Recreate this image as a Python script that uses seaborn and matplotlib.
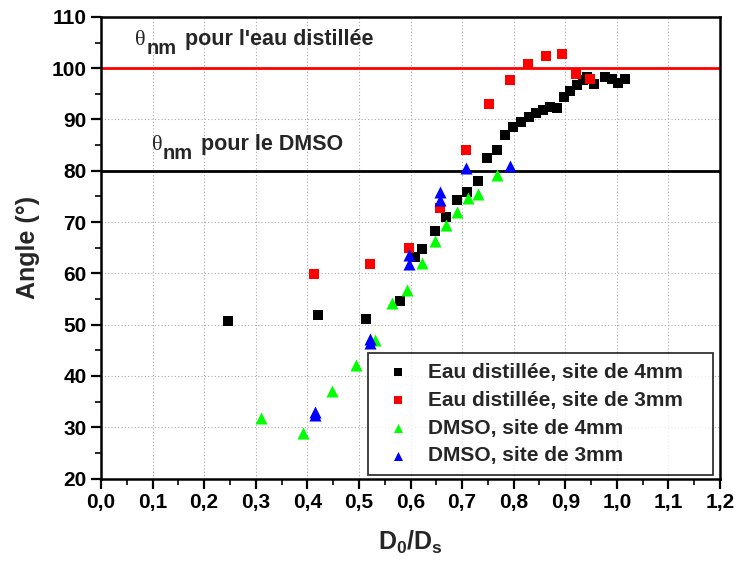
import matplotlib
matplotlib.use("Agg")
import matplotlib.pyplot as plt
import seaborn as sns
import pandas as pd
from matplotlib.ticker import MultipleLocator, FuncFormatter

# ---- data ----
eau4_x = [0.247, 0.421, 0.513, 0.579, 0.609, 0.622, 0.647, 0.669, 0.690, 0.710,
          0.730, 0.749, 0.767, 0.783, 0.798, 0.814, 0.829, 0.844, 0.857, 0.870,
          0.884, 0.897, 0.909, 0.922, 0.935, 0.942, 0.955, 0.977, 0.990, 1.002, 1.016]
eau4_y = [50.8, 51.9, 51.1, 54.7, 63.1, 64.7, 68.3, 71.0, 74.4, 75.9,
          78.0, 82.4, 84.0, 86.9, 88.5, 89.6, 90.4, 91.2, 91.8, 92.5,
          92.2, 94.4, 95.6, 96.7, 97.7, 98.3, 96.9, 98.3, 97.8, 97.2, 97.8]

eau3_x = [0.413, 0.522, 0.597, 0.657, 0.707, 0.753, 0.793, 0.828, 0.862, 0.893, 0.921, 0.947]
eau3_y = [59.8, 61.9, 65.0, 72.8, 84.0, 93.1, 97.7, 100.8, 102.3, 102.8, 98.9, 97.8]

dmso4_x = [0.311, 0.391, 0.448, 0.494, 0.531, 0.565, 0.594, 0.622, 0.647, 0.669,
           0.690, 0.712, 0.730, 0.767]
dmso4_y = [31.9, 28.8, 37.0, 42.2, 47.0, 54.2, 56.8, 62.1, 66.4, 69.5,
           71.9, 74.6, 75.5, 79.1]

dmso3_x = [0.414, 0.414, 0.521, 0.521, 0.597, 0.597, 0.657, 0.657, 0.707, 0.793]
dmso3_y = [32.3, 33.0, 46.4, 47.2, 61.9, 63.5, 74.4, 75.8, 80.5, 80.9]

labels = ["Eau distillée, site de 4mm", "Eau distillée, site de 3mm",
          "DMSO, site de 4mm", "DMSO, site de 3mm"]
colors = ["#000000", "#FF0000", "#00FF00", "#0000FF"]
markers = ["s", "s", "^", "^"]

theta_eau = 100
theta_dmso = 80
annot_eau = "pour l'eau distillée"
annot_dmso = "pour le DMSO"

x_ticks = [round(0.1 * i, 1) for i in range(13)]
y_ticks = list(range(20, 111, 10))

# ---- build table ----
frames = []
for lab, xs, ys in zip(labels, [eau4_x, eau3_x, dmso4_x, dmso3_x],
                       [eau4_y, eau3_y, dmso4_y, dmso3_y]):
    frames.append(pd.DataFrame({"x": xs, "y": ys, "serie": lab}))
df = pd.concat(frames, ignore_index=True)

sns.set_theme(style="ticks")
plt.rcParams["font.family"] = ["Liberation Sans", "DejaVu Sans"]
plt.rcParams["mathtext.fontset"] = "custom"
plt.rcParams["mathtext.rm"] = "Liberation Sans:bold"
plt.rcParams["mathtext.bf"] = "Liberation Sans:bold"
plt.rcParams["mathtext.it"] = "Liberation Sans:bold"

fig = plt.figure(figsize=(7.37, 5.63), dpi=100)
ax = fig.add_axes([0.137, 0.150, 0.840, 0.820])

ax.axhline(theta_eau, color="#FF0000", lw=2, zorder=2)
ax.axhline(theta_dmso, color="black", lw=2, zorder=2)

for lab, col, mk in zip(labels, colors, markers):
    sub = df[df["serie"] == lab]
    sns.scatterplot(data=sub, x="x", y="y", ax=ax, color=col, marker=mk,
                    s=60 if mk == "s" else 75, linewidth=0, label=lab, zorder=3)

ax.set_xlim(0, 1.2)
ax.set_ylim(20, 110)
ax.set_xticks(x_ticks)
ax.set_yticks(y_ticks)
ax.xaxis.set_minor_locator(MultipleLocator(0.05))
ax.yaxis.set_minor_locator(MultipleLocator(5))
ax.xaxis.set_major_formatter(FuncFormatter(lambda v, p: f"{v:.1f}".replace(".", ",")))
ax.grid(True, which="major", color="#aaaaaa", linestyle=(0, (1, 2)), lw=0.8)
ax.set_axisbelow(True)

for sp in ax.spines.values():
    sp.set_linewidth(1.8)
    sp.set_color("black")

ax.tick_params(axis="both", which="major", direction="out", length=7, width=1.6,
               labelsize=15, colors="black")
ax.tick_params(axis="both", which="minor", direction="out", length=4, width=1.4)
for t in ax.get_xticklabels() + ax.get_yticklabels():
    t.set_fontweight("bold")

ax.set_xlabel(r"$\mathbf{D_0/D_s}$", fontsize=18, labelpad=12)
ax.set_ylabel("Angle (°)", fontsize=18, fontweight="bold", labelpad=8)


def theta_label(x, y, rest):
    t1 = ax.text(x, y, "θ", fontsize=16, family="Liberation Serif",
                 va="baseline", ha="left")
    t2 = ax.annotate("nm", xy=(1, 0), xycoords=t1, xytext=(0.5, -5.5),
                     textcoords="offset points", fontsize=14.5,
                     fontweight="bold", va="bottom", ha="left")
    ax.annotate(rest, xy=(1, 0), xycoords=t2, xytext=(6, 5.5),
                textcoords="offset points", fontsize=15.5,
                fontweight="bold", va="bottom", ha="left")


theta_label(0.066, 104.5, annot_eau)
theta_label(0.098, 84.0, annot_dmso)

leg = ax.legend(loc="lower left", bbox_to_anchor=(0.431, 0.008, 0.558, 0.3),
                mode="expand", fancybox=False, frameon=True, edgecolor="black",
                fontsize=15, markerscale=0.75, handletextpad=0.45,
                borderpad=0.45, labelspacing=0.43, handlelength=2.0,
                borderaxespad=0)
leg.get_frame().set_linewidth(1.3)
for t in leg.get_texts():
    t.set_fontweight("bold")

fig.savefig("out.png", dpi=100)
